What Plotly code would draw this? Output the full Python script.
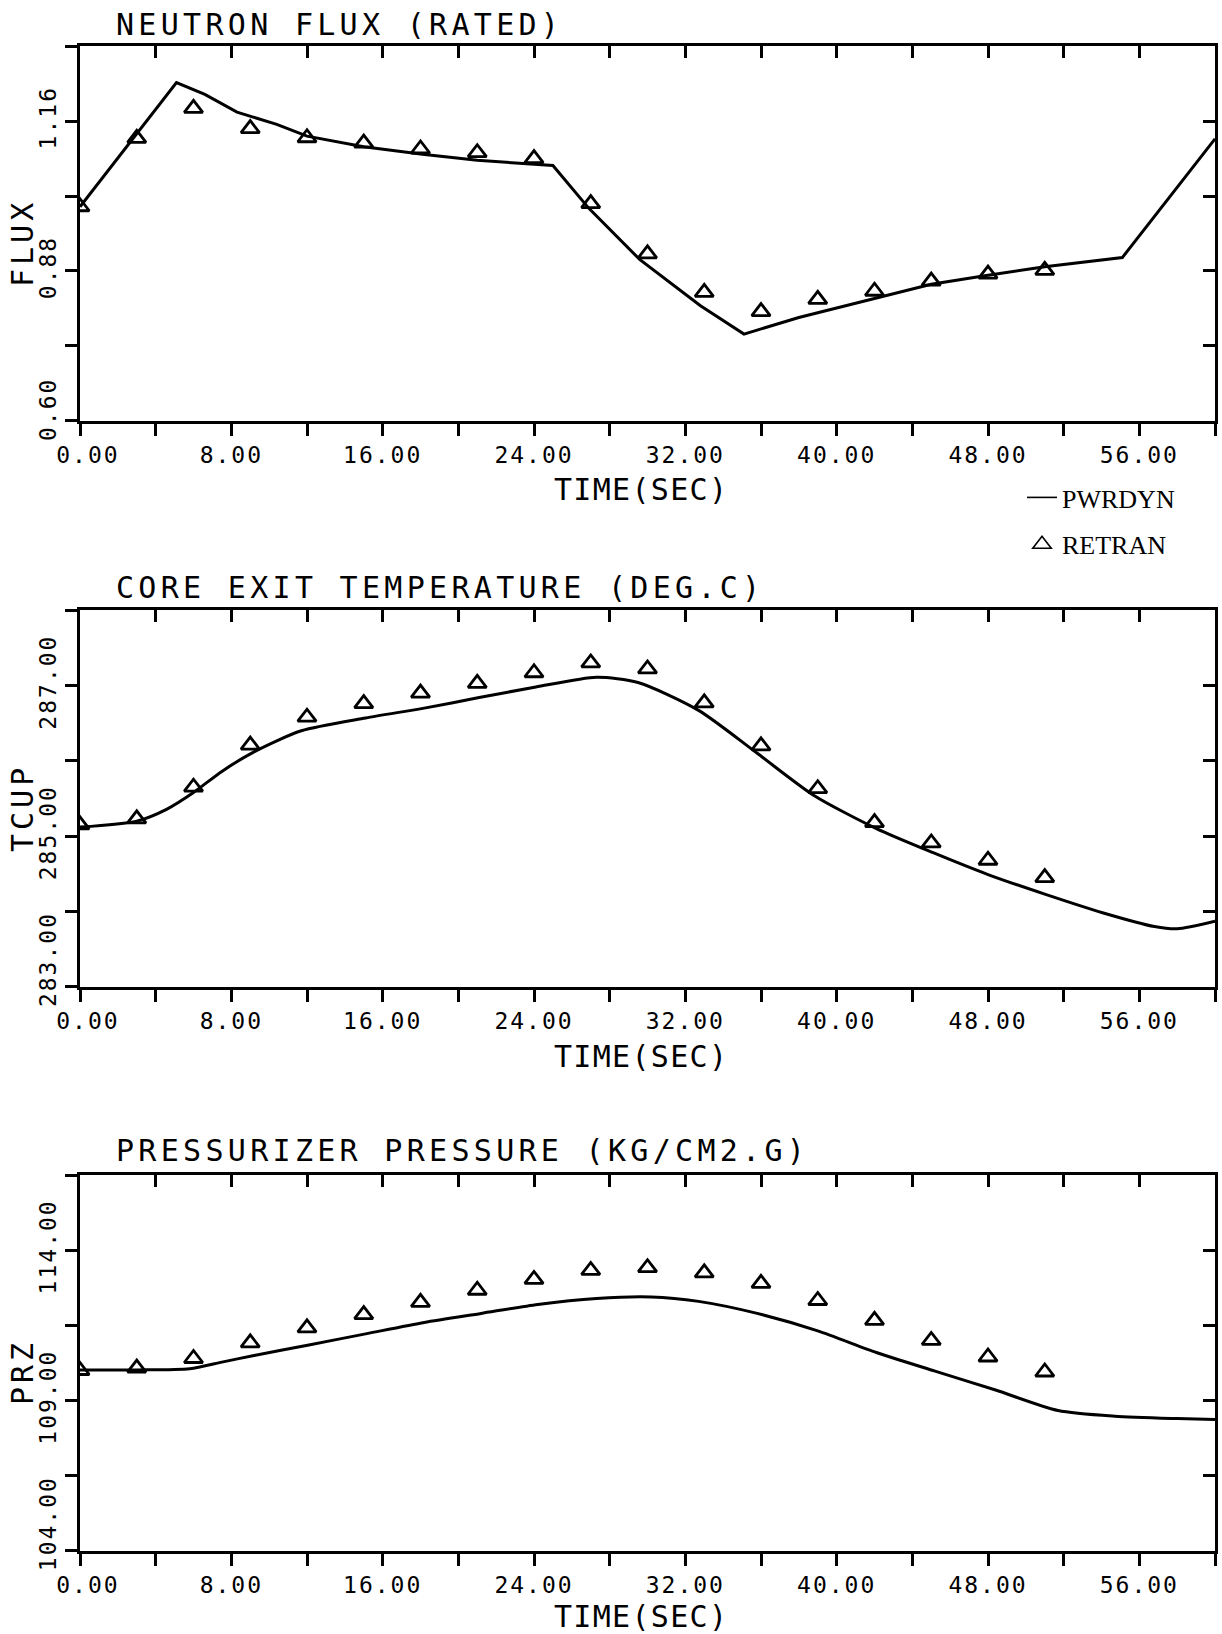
import plotly.graph_objects as go

# ---------------- data ----------------
time_retran = [0, 3, 6, 9, 12, 15, 18, 21, 24, 27, 30, 33, 36, 39, 42, 45, 48, 51]

flux_t = [0, 5.1, 6.6, 8.3, 10.4, 12.0, 15.0, 18.1, 21.0, 22.2, 25.0, 26.9, 29.6,
          32.8, 35.1, 38.0, 42.2, 45.0, 48.0, 51.0, 55.1, 60.0]
flux_pwrdyn = [1.000, 1.232, 1.210, 1.177, 1.154, 1.132, 1.112, 1.098, 1.087, 1.084,
               1.077, 0.997, 0.901, 0.815, 0.762, 0.793, 0.830, 0.855, 0.872, 0.888,
               0.905, 1.127]
flux_retran = [1.000, 1.128, 1.184, 1.146, 1.129, 1.119, 1.108, 1.101, 1.090, 1.006,
               0.912, 0.840, 0.804, 0.827, 0.842, 0.861, 0.874, 0.881]

tcup_t = [0, 3, 4.6, 6.0, 7.5, 9.2, 11.7, 15.1, 18.2, 21.1, 24.1, 27.3, 29.5, 32.7,
          35.8, 38.8, 42.1, 45.1, 48.0, 51.0, 54.1, 56.8, 58.0, 60.0]
tcup_pwrdyn = [285.12, 285.20, 285.36, 285.58, 285.86, 286.12, 286.40, 286.57, 286.70,
               286.84, 286.98, 287.11, 287.04, 286.67, 286.10, 285.54, 285.10, 284.78,
               284.49, 284.23, 283.98, 283.80, 283.77, 283.87]
tcup_retran = [285.15, 285.23, 285.65, 286.21, 286.58, 286.76, 286.90, 287.03, 287.17,
               287.30, 287.22, 286.77, 286.20, 285.63, 285.18, 284.91, 284.68, 284.45]

prz_t = [0, 3, 5.8, 7.5, 9.2, 12.1, 15.1, 18.2, 21.2, 24.2, 27.3, 30.2, 32.7, 35.8,
         39.0, 42.1, 45.2, 48.4, 51.7, 54.7, 58.0, 60.0]
prz_pwrdyn = [110.02, 110.02, 110.06, 110.28, 110.50, 110.85, 111.22, 111.60, 111.90,
              112.20, 112.40, 112.45, 112.30, 111.90, 111.32, 110.60, 109.98, 109.35,
              108.67, 108.48, 108.40, 108.37]
prz_retran = [110.00, 110.08, 110.40, 110.92, 111.42, 111.86, 112.27, 112.67, 113.03,
              113.33, 113.42, 113.25, 112.90, 112.33, 111.67, 111.00, 110.45, 109.95]

x_tick_vals = [0, 4, 8, 12, 16, 20, 24, 28, 32, 36, 40, 44, 48, 52, 56, 60]
x_tick_text = ["0.00", "", "8.00", "", "16.00", "", "24.00", "", "32.00", "", "40.00",
               "", "48.00", "", "56.00", ""]

flux_ticks = [0.60, 0.74, 0.88, 1.02, 1.16, 1.30]
flux_tick_text = ["0.60", "", "0.88", "", "1.16", ""]
tcup_ticks = [283, 284, 285, 286, 287, 288]
tcup_tick_text = ["283.00", "", "285.00", "", "287.00", ""]
prz_ticks = [104, 106.5, 109, 111.5, 114, 116.5]
prz_tick_text = ["104.00", "", "109.00", "", "114.00", ""]

titles = ["NEUTRON FLUX (RATED)", "CORE EXIT TEMPERATURE (DEG.C)",
          "PRESSURIZER PRESSURE (KG/CM2.G)"]
y_titles = ["FLUX", "TCUP", "PRZ"]
x_title = "TIME(SEC)"
series_names = ["PWRDYN", "RETRAN"]

# ---------------- layout geometry (pixels) ----------------
W, H = 1222, 1634
LEFT, RIGHT = 80, 1215
panels = [
    dict(top=46, bottom=421, rng=[0.5995, 1.3005], tv=flux_ticks, tt=flux_tick_text,
         title_y=25, ytitle_y=243, xtitle_y=490, first_pad=1),
    dict(top=610, bottom=987, rng=[282.997, 288.003], tv=tcup_ticks, tt=tcup_tick_text,
         title_y=587, ytitle_y=808, xtitle_y=1056, first_pad=3),
    dict(top=1175, bottom=1551, rng=[103.995, 116.505], tv=prz_ticks, tt=prz_tick_text,
         title_y=1150, ytitle_y=1372, xtitle_y=1616, first_pad=3),
]
line_data = [(flux_t, flux_pwrdyn, flux_retran, "linear"),
             (tcup_t, tcup_pwrdyn, tcup_retran, "spline"),
             (prz_t, prz_pwrdyn, prz_retran, "spline")]

MONO = "DejaVu Sans Mono"
AXW = 2.6
NB = "\u00a0"


def sp(text, px):
    return f'<span style="letter-spacing:{px}px">{text}</span>'


fig = go.Figure()
layout = dict(width=W, height=H, margin=dict(l=0, r=0, t=0, b=0, autoexpand=False),
              paper_bgcolor="white", plot_bgcolor="white", annotations=[],
              font=dict(family=MONO, color="black"))

tickfont = dict(family=MONO, size=23, color="black")

# first x label nudged right, first y label nudged up (as in the plotter output)
x_labels = [sp((NB + t) if k == 0 else t, 2.0) for k, t in enumerate(x_tick_text)]

for i, p in enumerate(panels):
    n = i + 1
    xs = "" if n == 1 else str(n)
    xo = str(n + 3)
    ydom = [1 - p["bottom"] / H, 1 - p["top"] / H]
    xdom = [LEFT / W, RIGHT / W]
    y_labels = [sp((NB * p["first_pad"] + t) if k == 0 else t, 2.0)
                for k, t in enumerate(p["tt"])]
    common = dict(showgrid=False, zeroline=False, showline=True, linecolor="black",
                  linewidth=AXW, tickcolor="black", tickwidth=AXW, ticklen=12,
                  automargin=False)
    layout["xaxis" + xs] = dict(domain=xdom, range=[0, 60], anchor="y" + xs,
                                tickmode="array", tickvals=x_tick_vals,
                                ticktext=x_labels,
                                ticks="outside", tickfont=tickfont, **common)
    layout["yaxis" + xs] = dict(domain=ydom, range=p["rng"], anchor="x" + xs,
                                tickmode="array", tickvals=p["tv"],
                                ticktext=y_labels,
                                ticks="outside", tickangle=-90, tickfont=tickfont,
                                **common)
    layout["xaxis" + xo] = dict(range=[0, 60], overlaying="x" + xs, anchor="y" + xs,
                                side="top", tickmode="array", tickvals=x_tick_vals,
                                ticks="inside", showticklabels=False, **common)
    layout["yaxis" + xo] = dict(range=p["rng"], overlaying="y" + xs, anchor="x" + xs,
                                side="right", tickmode="array", tickvals=p["tv"],
                                ticks="inside", showticklabels=False, **common)

    tt, pw, rt, shape = line_data[i]
    fig.add_trace(go.Scatter(x=tt, y=pw, mode="lines", name=series_names[0],
                             line=dict(color="black", width=3, shape=shape,
                                       smoothing=0.7),
                             xaxis="x" + xs, yaxis="y" + xs, showlegend=False))
    fig.add_trace(go.Scatter(x=time_retran, y=rt, mode="markers", name=series_names[1],
                             marker=dict(symbol="triangle-up-open", size=16,
                                         color="black", line=dict(width=2.8,
                                                                  color="black")),
                             xaxis="x" + xs, yaxis="y" + xs, showlegend=False))
    fig.add_trace(go.Scatter(x=[None], y=[None], xaxis="x" + xo, yaxis="y" + xo,
                             showlegend=False, hoverinfo="skip", mode="markers"))

    layout["annotations"].append(dict(
        text=sp(titles[i], 4.3), xref="paper", yref="paper", x=114 / W,
        y=1 - p["title_y"] / H, xanchor="left", yanchor="middle", showarrow=False,
        font=dict(family=MONO, size=30, color="black")))
    layout["annotations"].append(dict(
        text=sp(y_titles[i], 4), xref="paper", yref="paper", x=22 / W,
        y=1 - p["ytitle_y"] / H, xanchor="center", yanchor="middle", showarrow=False,
        textangle=-90, font=dict(family=MONO, size=30, color="black")))
    layout["annotations"].append(dict(
        text=sp(x_title, 1.3), xref="paper", yref="paper", x=641 / W,
        y=1 - p["xtitle_y"] / H, xanchor="center", yanchor="middle", showarrow=False,
        font=dict(family=MONO, size=30, color="black")))

# legend entries (thin-line key as drawn by the plotter)
fig.add_trace(go.Scatter(x=[None], y=[None], mode="lines", name=series_names[0],
                         line=dict(color="black", width=1.6), legendgroup="a"))
fig.add_trace(go.Scatter(x=[None], y=[None], mode="markers", name=series_names[1],
                         marker=dict(symbol="triangle-up-open", size=22, color="black",
                                     line=dict(width=1.6, color="black")),
                         legendgroup="b"))

layout["showlegend"] = True
layout["legend"] = dict(x=(1064 - 42) / W, y=1 - 474 / H, xanchor="left",
                        yanchor="top", bgcolor="rgba(0,0,0,0)", borderwidth=0,
                        tracegroupgap=10, itemsizing="trace",
                        font=dict(family="Liberation Serif", size=26, color="black"))
fig.update_layout(**layout)
fig.write_html("out.html")
